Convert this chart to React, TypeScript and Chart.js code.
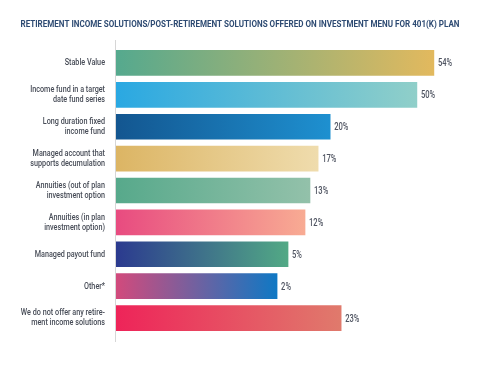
import React, { useEffect, useRef } from "react";
import { Chart, registerables } from "chart.js";

Chart.register(...registerables);

const titleText =
  "RETIREMENT INCOME SOLUTIONS/POST-RETIREMENT SOLUTIONS OFFERED ON INVESTMENT MENU FOR 401(K) PLAN";

const categories: string[][] = [
  ["Stable Value"],
  ["Income fund in a target", "date fund series"],
  ["Long duration fixed", "income fund"],
  ["Managed account that", "supports decumulation"],
  ["Annuities (out of plan", "investment option"],
  ["Annuities (in plan", "investment option)"],
  ["Managed payout fund"],
  ["Other*"],
  ["We do not offer any retire-", "ment income solutions"],
];

// Percent labels as printed on the chart
const percentLabels = [54, 50, 20, 17, 13, 12, 5, 2, 23];

// Drawn bar lengths (the original bars are not proportional to the labels)
const barLengths = [89.8, 85.0, 60.5, 57.1, 54.8, 53.4, 48.6, 45.5, 63.6];

const gradientStarts = [
  "#55a98e", "#2aa8e2", "#135690", "#dcb564", "#57a98b",
  "#e84b80", "#2b3a8f", "#d24a7c", "#ee2459",
];
const gradientEnds = [
  "#e2b95e", "#90cfc9", "#1e90d0", "#efdcad", "#93c1aa",
  "#f8ab93", "#52a985", "#0f78c4", "#e07a6c",
];

const FONT = "Roboto, 'Liberation Sans', sans-serif";
const TEXT_SQUEEZE = 0.76;

function drawCondensed(
  ctx: CanvasRenderingContext2D,
  text: string,
  x: number,
  y: number,
  align: CanvasTextAlign,
  sx: number
) {
  ctx.save();
  ctx.translate(x, y);
  ctx.scale(sx, 1);
  ctx.textAlign = align;
  ctx.fillText(text, 0, 0);
  ctx.restore();
}

export default function App() {
  const canvasRef = useRef<HTMLCanvasElement | null>(null);

  useEffect(() => {
    document.body.style.margin = "0";
    const canvas = canvasRef.current;
    if (!canvas) return;

    const axisLinePlugin = {
      id: "axisLine",
      beforeDatasetsDraw(chart: any) {
        const { ctx, chartArea } = chart;
        ctx.save();
        ctx.strokeStyle = "#d6d6d6";
        ctx.lineWidth = 1;
        ctx.beginPath();
        ctx.moveTo(chartArea.left - 0.5, chartArea.top - 7);
        ctx.lineTo(chartArea.left - 0.5, chartArea.bottom + 8);
        ctx.stroke();
        ctx.restore();
      },
    };

    const textPlugin = {
      id: "condensedText",
      afterDraw(chart: any) {
        const { ctx, chartArea, width } = chart;
        const yScale = chart.scales.y;
        ctx.save();
        ctx.textBaseline = "middle";

        // Title
        ctx.fillStyle = "#2e4b73";
        ctx.font = `bold 9.5px ${FONT}`;
        const tw = ctx.measureText(titleText).width;
        const titleSqueeze = Math.min(1, 439 / tw);
        drawCondensed(ctx, titleText, width / 2, 25, "center", titleSqueeze);

        // Category labels
        ctx.fillStyle = "#474c57";
        ctx.font = `500 9.5px ${FONT}`;
        const lineH = 10;
        categories.forEach((lines, i) => {
          const cy = yScale.getPixelForTick(i);
          const y0 = cy - ((lines.length - 1) * lineH) / 2;
          lines.forEach((ln, j) => {
            drawCondensed(ctx, ln, chartArea.left - 11, y0 + j * lineH, "right", TEXT_SQUEEZE);
          });
        });

        // Value labels
        ctx.fillStyle = "#4f5461";
        ctx.font = `500 10px ${FONT}`;
        const meta = chart.getDatasetMeta(0);
        meta.data.forEach((bar: any, i: number) => {
          drawCondensed(ctx, percentLabels[i] + "%", bar.x + 4, bar.y + 1, "left", TEXT_SQUEEZE);
        });
        ctx.restore();
      },
    };

    const chart = new Chart(canvas, {
      type: "bar",
      data: {
        labels: categories,
        datasets: [
          {
            data: barLengths,
            backgroundColor: (c: any) => {
              const ch = c.chart;
              const i = c.dataIndex;
              const xs = ch.scales && ch.scales.x;
              if (!ch.chartArea || !xs || i === undefined) return gradientStarts[i || 0];
              const x0 = xs.getPixelForValue(0);
              const x1 = xs.getPixelForValue(barLengths[i]);
              const g = ch.ctx.createLinearGradient(x0, 0, x1, 0);
              g.addColorStop(0, gradientStarts[i]);
              g.addColorStop(1, gradientEnds[i]);
              return g;
            },
            borderWidth: 0,
            barThickness: 25,
          },
        ],
      },
      options: {
        indexAxis: "y",
        animation: false,
        responsive: false,
        maintainAspectRatio: false,
        layout: { padding: { left: 0, right: 10, top: 47, bottom: 33 } },
        plugins: {
          legend: { display: false },
          tooltip: { enabled: false },
          title: { display: false },
        },
        scales: {
          x: {
            display: false,
            min: 0,
            max: 100,
          },
          y: {
            afterFit: (scale: any) => {
              scale.width = 116;
            },
            grid: { display: false, drawTicks: false },
            border: { display: false },
            ticks: { display: false },
          },
        },
      },
      plugins: [axisLinePlugin, textPlugin],
    } as any);

    return () => chart.destroy();
  }, []);

  return (
    <div style={{ width: 480, height: 367, background: "#fff" }}>
      <canvas ref={canvasRef} width={480} height={367} style={{ display: "block" }} />
    </div>
  );
}
